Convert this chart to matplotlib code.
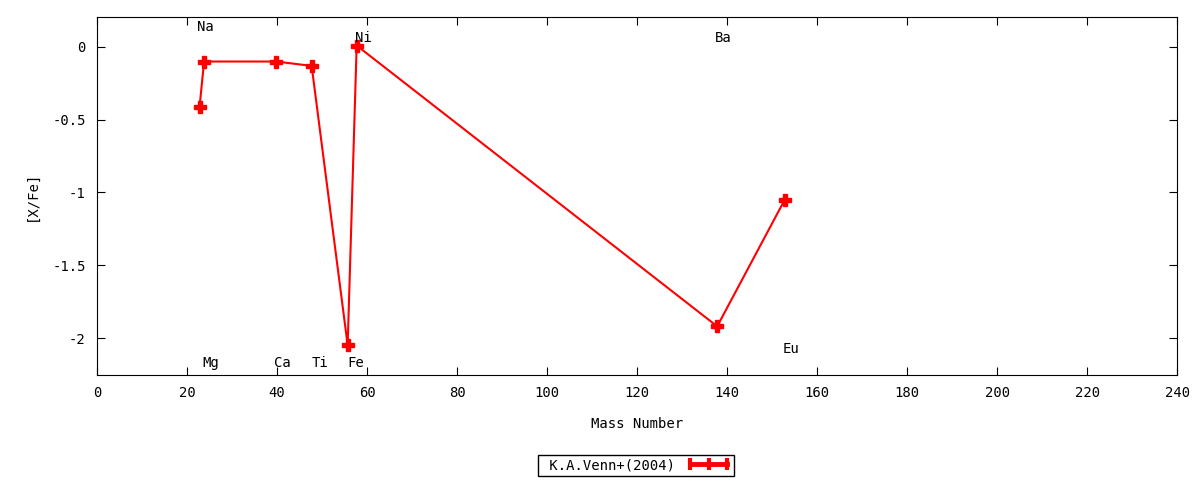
import matplotlib
matplotlib.use("Agg")
import matplotlib.pyplot as plt
from matplotlib.lines import Line2D

plt.rcParams['font.family'] = ['DejaVu Sans Mono']
plt.rcParams['axes.unicode_minus'] = False

# data
mass = [22.8, 23.8, 39.8, 47.7, 55.7, 57.7, 137.8, 152.8]
xfe = [-0.41, -0.10, -0.10, -0.13, -2.05, 0.01, -1.92, -1.05]

# element labels and where they sit
elements = ["Na", "Mg", "Ca", "Ti", "Fe", "Ni", "Ba", "Eu"]
label_x = [22.3, 23.4, 39.4, 47.6, 55.6, 57.4, 137.3, 152.4]
label_y = [0.137, -2.17, -2.17, -2.17, -2.17, 0.065, 0.065, -2.075]

fig = plt.figure(figsize=(12, 4.8), dpi=100)
ax = fig.add_axes([0.0808, 0.2188, 0.9002, 0.7458])

ax.plot(mass, xfe, color="red", lw=1.5, marker="P", markersize=8)

for name, lx, ly in zip(elements, label_x, label_y):
    ax.text(lx, ly, name, fontsize=10, ha="left", va="center")

ax.set_xlim(0, 240)
ax.set_ylim(-2.254, 0.206)
ax.set_xticks(range(0, 241, 20))
ax.set_yticks([0, -0.5, -1, -1.5, -2])
ax.set_yticklabels(["0", "-0.5", "-1", "-1.5", "-2"])
ax.tick_params(direction="in", top=True, right=True, length=6, labelsize=10, pad=8)

ax.set_xlabel("Mass Number", fontsize=10, labelpad=12)
ax.set_ylabel("[X/Fe]", fontsize=10, labelpad=10)

# legend sample: thick line with bars, gnuplot style
handle = Line2D([], [], color="red", lw=3.5, marker="|", markersize=9, mew=3)
leg = fig.legend([handle], [" K.A.Venn+(2004)"], loc="center",
                 bbox_to_anchor=(0.53, 0.031), markerfirst=False, numpoints=3,
                 fancybox=False, edgecolor="black", fontsize=10, handlelength=3.2,
                 borderpad=0.25, framealpha=1)
leg.get_frame().set_linewidth(1.0)

fig.savefig("out.png", dpi=100)
